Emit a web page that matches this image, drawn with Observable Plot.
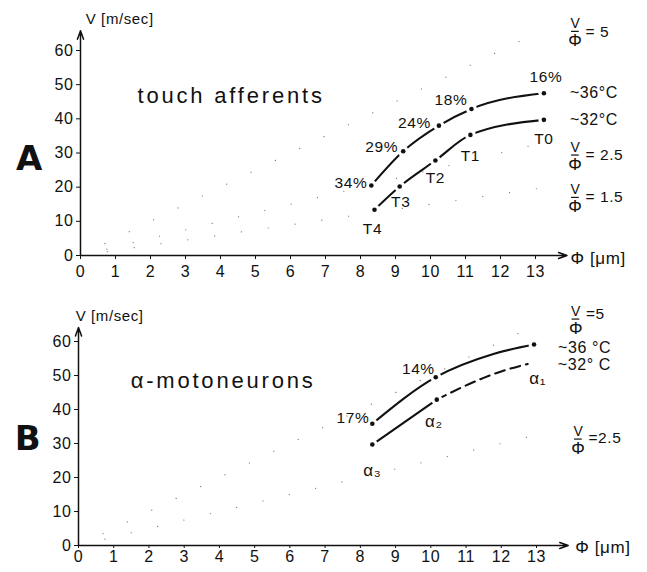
<!DOCTYPE html>
<html>
<head>
<meta charset="utf-8">
<script src="https://cdn.jsdelivr.net/npm/d3@7"></script>
<script src="https://cdn.jsdelivr.net/npm/@observablehq/plot@0.6"></script>
<style>
  body { margin: 0; background: #fff; }
  #fig { width: 647px; }
  #fig svg { display: block; overflow: visible; }
  #fig svg text { letter-spacing: 0.6px; }
  #fig g[aria-description="panel-title"] text { letter-spacing: 2.8px; }
</style>
</head>
<body>
<div id="fig"></div>
<script>
// Conduction velocity V (m/sec) against fibre diameter Φ (µm) at ~36 °C and ~32 °C.

// A: touch afferents
const touchDiameter36 = [8.31, 9.22, 10.24, 11.17, 13.24];
const touchVelocity36 = [20.5, 30.5, 38.0, 42.9, 47.5];
const touchSlowing = ["34%", "29%", "24%", "18%", "16%"];
const touchDiameter32 = [8.40, 9.12, 10.14, 11.14, 13.24];
const touchVelocity32 = [13.4, 20.2, 27.8, 35.3, 39.7];
const touchUnits = ["T4", "T3", "T2", "T1", "T0"];
const touchRatios = [5, 2.5, 1.5];

// B: α-motoneurons (trace points; only the measured ones carry a dot)
const motoDiameter36 = [8.34, 10.14, 11.8, 12.93];
const motoVelocity36 = [35.8, 49.5, 56.4, 59.1];
const motoMarked36 = [true, true, false, true];
const motoSlowing = ["17%", "14%"];
const motoDiameter32 = [8.34, 10.17, 11.5, 12.0, 12.75];
const motoVelocity32 = [29.7, 42.9, 49.3, 51.2, 53.4];
const motoMarked32 = [true, true, false, false, false];
const motoUnits = ["α₃", "α₂", "α₁"];
const motoRatios = [5, 2.5];

const xTicks = d3.range(0, 14);
const yTicks = d3.range(0, 61, 10);

const FONT = "'Liberation Sans', Arial, sans-serif";
const INK = "#111";

const zipRows = (xs, ys, marked) => xs.map((x, i) => ({x, y: ys[i], marked: marked ? marked[i] : true}));

// a sparse dotted guide V = r·Φ from the origin
function ratioGuide(r, xMax, yMax) {
  const xe = Math.min(xMax, yMax / r);
  return Plot.line([{x: 0, y: 0}, {x: xe, y: r * xe}], {
    x: "x", y: "y", stroke: "#777", strokeWidth: 1.2,
    strokeDasharray: "0.1,27", strokeLinecap: "round"
  });
}

// "V over Φ = r" label, centred on its fraction bar
function ratioLabel(r, at, eqDy, spaced) {
  const d = [at];
  return [
    Plot.text(d, {x: "x", y: "y", text: () => "V", dy: -8, fontSize: 14, fill: INK}),
    Plot.ruleY(d, {y: "y", x1: p => p.x - 0.11, x2: p => p.x + 0.11, stroke: INK, strokeWidth: 1.2}),
    Plot.text(d, {x: "x", y: "y", text: () => "Φ", dy: 9, fontSize: 17, fill: INK}),
    Plot.text(d, {x: "x", y: "y", text: () => (spaced ? "= " : "=") + r, dx: 10, dy: eqDy,
      textAnchor: "start", fontSize: 15.5, fill: INK})
  ];
}

function curveMarks(rows, dash) {
  return Plot.line(rows, {x: "x", y: "y", curve: "monotone-x", stroke: INK, strokeWidth: 2.1,
    strokeDasharray: dash});
}
function dotMarks(rows) {
  const m = rows.filter(d => d.marked);
  return [
    Plot.dot(m, {x: "x", y: "y", r: 5.5, fill: "white", stroke: "none"}),
    Plot.dot(m, {x: "x", y: "y", r: 2.3, fill: INK, stroke: "none"})
  ];
}
function labelAt(row, text, dx, dy, anchor, size = 15.5) {
  return Plot.text([row], {x: "x", y: "y", text: () => text, dx, dy, textAnchor: anchor,
    fontSize: size, fill: INK});
}
function axisMarks(yTip) {
  return [
    Plot.arrow([{x1: 0, y1: 0, x2: 13.9, y2: 0}], {x1: "x1", y1: "y1", x2: "x2", y2: "y2",
      stroke: INK, strokeWidth: 1.5, headLength: 9, headAngle: 40}),
    Plot.arrow([{x1: 0, y1: 0, x2: 0, y2: yTip}], {x1: "x1", y1: "y1", x2: "x2", y2: "y2",
      stroke: INK, strokeWidth: 1.5, headLength: 9, headAngle: 40})
  ];
}
function frameText(x, y, text, opts) {
  return Plot.text([{x, y}], {x: "x", y: "y", text: () => text, fill: INK, ...opts});
}

const fig = document.getElementById("fig");

// ---------- A: touch afferents ----------
const t36 = zipRows(touchDiameter36, touchVelocity36);
const t32 = zipRows(touchDiameter32, touchVelocity32);
const pctOffsetsA = [[-4, -2, "end"], [-5, -4, "end"], [-8, -3, "end"], [-4, -9, "end"], [2, -16, "middle"]];
const unitOffsetsA = [[-2, 19], [1, 16], [0, 18], [0, 21], [0, 19]];

const plotA = Plot.plot({
  width: 647, height: 280,
  marginLeft: 80, marginRight: 112, marginTop: 50, marginBottom: 25,
  style: {fontFamily: FONT, fontSize: "16px", color: INK, background: "white"},
  x: {domain: [0, 13], ticks: xTicks, tickSize: 4, tickPadding: 6, label: null},
  y: {domain: [0, 60], ticks: yTicks, tickSize: 4, tickPadding: 3, label: null},
  marks: [
    ...touchRatios.map(r => ratioGuide(r, 13.4, 65)),
    curveMarks(t36), curveMarks(t32),
    ...dotMarks(t36), ...dotMarks(t32),
    ...t36.map((d, i) => labelAt(d, touchSlowing[i], pctOffsetsA[i][0], pctOffsetsA[i][1], pctOffsetsA[i][2])),
    ...t32.map((d, i) => labelAt(d, touchUnits[i], unitOffsetsA[i][0], unitOffsetsA[i][1], "middle")),
    labelAt(t36[t36.length - 1], "~36°C", 26, 0, "start", 16),
    labelAt(t32[t32.length - 1], "~32°C", 26, 0, "start", 16),
    ...ratioLabel(touchRatios[0], {x: 14.14, y: 65.6}, 1, true),
    ...ratioLabel(touchRatios[1], {x: 14.14, y: 29.4}, 0, true),
    ...ratioLabel(touchRatios[2], {x: 14.14, y: 17.0}, 0, true),
    ...axisMarks(65.8),
    frameText(0.15, 69.2, "V [m/sec]", {textAnchor: "start", fontSize: 15}),
    frameText(14.0, -0.9, "Φ [μm]", {textAnchor: "start", fontSize: 17}),
    frameText(1.63, 46.8, "touch afferents", {textAnchor: "start", fontSize: 22, ariaDescription: "panel-title"}),
    frameText(-1.46, 28.2, "A", {fontSize: 34, fontWeight: "bold", fontFamily: "'DejaVu Sans', sans-serif"})
  ]
});
fig.appendChild(plotA);

// ---------- B: α-motoneurons ----------
const m36 = zipRows(motoDiameter36, motoVelocity36, motoMarked36);
const m32 = zipRows(motoDiameter32, motoVelocity32, motoMarked32);
const m32solid = m32.slice(0, 2);
const m32dashed = m32.slice(1);
const m36dots = m36.filter(d => d.marked);

const plotB = Plot.plot({
  width: 647, height: 292,
  marginLeft: 78, marginRight: 111, marginTop: 61, marginBottom: 27,
  style: {fontFamily: FONT, fontSize: "16px", color: INK, background: "white"},
  x: {domain: [0, 13], ticks: xTicks, tickSize: 3, tickPadding: 2, label: null},
  y: {domain: [0, 60], ticks: yTicks, tickSize: 4, tickPadding: 3, label: null},
  marks: [
    ...motoRatios.map(r => ratioGuide(r, 13.4, 65)),
    curveMarks(m36), curveMarks(m32solid), curveMarks(m32dashed, "10,6"),
    ...dotMarks(m36), ...dotMarks(m32),
    labelAt(m36dots[0], motoSlowing[0], -3, -6, "end"),
    labelAt(m36dots[1], motoSlowing[1], -1, -8, "end"),
    labelAt(m32[0], motoUnits[0], 0, 26, "middle", 17),
    labelAt(m32[1], motoUnits[1], -3, 22, "middle", 17),
    labelAt(m32[m32.length - 1], motoUnits[2], 10, 15, "middle", 17),
    labelAt(m36[m36.length - 1], "~36 °C", 24, 3, "start", 16),
    labelAt(m32[m32.length - 1], "~32° C", 30, 1, "start", 16),
    ...ratioLabel(motoRatios[0], {x: 14.12, y: 66.6}, -5, false),
    ...ratioLabel(motoRatios[1], {x: 14.19, y: 31.3}, -1.5, false),
    ...axisMarks(64.1),
    frameText(-0.08, 67.3, "V [m/sec]", {textAnchor: "start", fontSize: 15}),
    frameText(14.1, -0.6, "Φ [μm]", {textAnchor: "start", fontSize: 17}),
    frameText(1.48, 48.5, "α-motoneurons", {textAnchor: "start", fontSize: 22, ariaDescription: "panel-title"}),
    frameText(-1.43, 31.3, "B", {fontSize: 34, fontWeight: "bold", fontFamily: "'DejaVu Sans', sans-serif"})
  ]
});
fig.appendChild(plotB);
</script>
</body>
</html>
